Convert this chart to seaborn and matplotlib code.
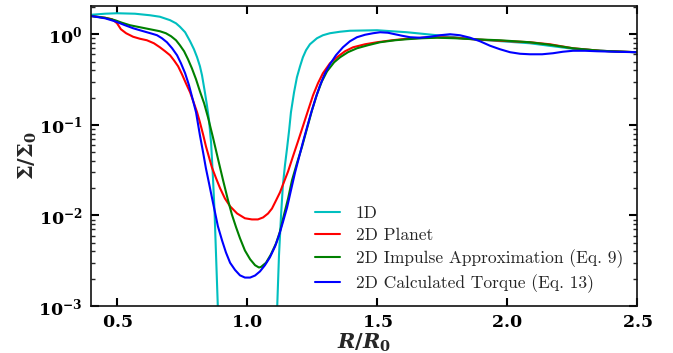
import numpy as np
import pandas as pd
import matplotlib
matplotlib.use("Agg")
import matplotlib.pyplot as plt
import matplotlib.ticker as mticker
import seaborn as sns

# ---------------- data ----------------
labels = ["1D", "2D Planet", "2D Impulse Approximation (Eq. 9)",
          "2D Calculated Torque (Eq. 13)"]
colors = ["#00bfbf", "#ff0000", "#008000", "#0000ff"]

x_1d = [0.40, 0.454, 0.50, 0.569, 0.627, 0.665, 0.704, 0.727, 0.742, 0.762,
        0.781, 0.796, 0.808, 0.819, 0.827, 0.838, 0.846, 0.854, 0.862, 0.869,
        0.875, 0.881, 0.887, 0.892, 1.00, 1.112, 1.117, 1.123, 1.131, 1.138,
        1.146, 1.154, 1.162, 1.169, 1.181, 1.192, 1.204, 1.215, 1.227, 1.242,
        1.269, 1.292, 1.319, 1.358, 1.396, 1.50, 1.615, 1.731, 1.869, 2.088,
        2.254, 2.396, 2.50]
y_1d = [1.64, 1.685, 1.705, 1.685, 1.62, 1.56, 1.43, 1.32, 1.21, 1.052,
        0.837, 0.683, 0.557, 0.443, 0.352, 0.229, 0.164, 0.112, 0.0625,
        0.0263, 0.0114, 0.0036, 0.00115, 0.00041, 1e-6, 0.00041, 0.00115,
        0.0036, 0.0101, 0.0215, 0.0358, 0.055, 0.087, 0.1375, 0.229, 0.335,
        0.443, 0.557, 0.666, 0.775, 0.903, 0.975, 1.026, 1.066, 1.093, 1.107,
        1.052, 0.975, 0.881, 0.795, 0.69, 0.649, 0.633]

x_planet = [0.40, 0.454, 0.481, 0.50, 0.515, 0.535, 0.562, 0.588, 0.615,
            0.642, 0.665, 0.685, 0.704, 0.719, 0.735, 0.75, 0.765, 0.781,
            0.796, 0.808, 0.819, 0.831, 0.842, 0.854, 0.865, 0.881, 0.896,
            0.915, 0.935, 0.962, 0.992, 1.019, 1.042, 1.062, 1.081, 1.096,
            1.112, 1.127, 1.142, 1.158, 1.177, 1.196, 1.215, 1.235, 1.254,
            1.273, 1.292, 1.319, 1.346, 1.377, 1.408, 1.454, 1.50, 1.558,
            1.615, 1.673, 1.731, 1.80, 1.869, 1.973, 2.088, 2.165, 2.254,
            2.358, 2.50]
y_planet = [1.59, 1.52, 1.465, 1.323, 1.135, 1.026, 0.938, 0.892, 0.858,
            0.795, 0.718, 0.649, 0.586, 0.516, 0.443, 0.361, 0.288, 0.229,
            0.173, 0.1375, 0.1065, 0.0785, 0.058, 0.0438, 0.0339, 0.0257,
            0.0201, 0.0154, 0.0126, 0.0105, 0.0093, 0.00903, 0.00903, 0.0095,
            0.0105, 0.0119, 0.0147, 0.018, 0.0233, 0.0306, 0.045, 0.0655,
            0.0962, 0.1446, 0.212, 0.288, 0.371, 0.478, 0.557, 0.649, 0.718,
            0.775, 0.816, 0.858, 0.892, 0.915, 0.927, 0.915, 0.881, 0.848,
            0.816, 0.775, 0.70, 0.657, 0.633]

x_impulse = [0.40, 0.454, 0.492, 0.519, 0.55, 0.588, 0.627, 0.665, 0.688,
             0.708, 0.727, 0.742, 0.758, 0.773, 0.788, 0.804, 0.819, 0.835,
             0.85, 0.869, 0.888, 0.908, 0.927, 0.942, 0.958, 0.973, 0.992,
             1.012, 1.031, 1.046, 1.054, 1.073, 1.092, 1.112, 1.127, 1.142,
             1.158, 1.173, 1.192, 1.212, 1.231, 1.25, 1.269, 1.288, 1.308,
             1.335, 1.358, 1.388, 1.423, 1.465, 1.512, 1.569, 1.615, 1.673,
             1.731, 1.80, 1.869, 1.973, 2.088, 2.165, 2.254, 2.358, 2.50]
y_impulse = [1.59, 1.52, 1.43, 1.34, 1.257, 1.195, 1.135, 1.079, 1.026,
             0.95, 0.858, 0.756, 0.649, 0.53, 0.421, 0.318, 0.234, 0.173,
             0.121, 0.0728, 0.0426, 0.0244, 0.0147, 0.0102, 0.0074, 0.0056,
             0.0041, 0.00328, 0.00282, 0.00266, 0.0027, 0.003, 0.00371,
             0.00493, 0.00668, 0.0101, 0.0154, 0.0244, 0.0376, 0.0578, 0.0915,
             0.1446, 0.217, 0.302, 0.39, 0.49, 0.557, 0.633, 0.70, 0.756,
             0.816, 0.858, 0.881, 0.903, 0.915, 0.903, 0.881, 0.858, 0.816,
             0.766, 0.70, 0.657, 0.633]

x_torque = [0.40, 0.454, 0.492, 0.531, 0.562, 0.588, 0.615, 0.635, 0.654,
            0.673, 0.692, 0.712, 0.731, 0.746, 0.762, 0.777, 0.792, 0.804,
            0.819, 0.831, 0.842, 0.854, 0.865, 0.877, 0.888, 0.904, 0.919,
            0.935, 0.954, 0.973, 0.992, 1.012, 1.031, 1.05, 1.069, 1.088,
            1.108, 1.123, 1.138, 1.154, 1.169, 1.185, 1.20, 1.215, 1.231,
            1.246, 1.265, 1.281, 1.30, 1.319, 1.342, 1.369, 1.396, 1.423,
            1.454, 1.485, 1.512, 1.542, 1.569, 1.596, 1.627, 1.665, 1.704,
            1.742, 1.781, 1.819, 1.858, 1.896, 1.935, 1.973, 2.012, 2.05,
            2.088, 2.135, 2.177, 2.215, 2.254, 2.30, 2.346, 2.415, 2.50]
y_torque = [1.59, 1.50, 1.39, 1.257, 1.165, 1.107, 1.052, 1.013, 0.975,
            0.903, 0.816, 0.70, 0.586, 0.478, 0.371, 0.273, 0.187, 0.1375,
            0.0765, 0.0499, 0.0331, 0.0226, 0.0158, 0.0108, 0.0076, 0.0053,
            0.0039, 0.0030, 0.0025, 0.00218, 0.00206, 0.00206, 0.00217,
            0.00241, 0.00282, 0.00344, 0.00455, 0.006, 0.0084, 0.0122,
            0.0189, 0.0299, 0.0438, 0.0641, 0.094, 0.134, 0.201, 0.273,
            0.371, 0.466, 0.586, 0.718, 0.837, 0.927, 0.987, 1.026, 1.052,
            1.039, 1.0, 0.963, 0.927, 0.915, 0.938, 0.975, 1.0, 0.975, 0.915,
            0.837, 0.746, 0.683, 0.633, 0.609, 0.601, 0.601, 0.617, 0.641,
            0.657, 0.657, 0.649, 0.641, 0.633]

x_ticks = [0.5, 1.0, 1.5, 2.0, 2.5]

# ---------------- build long-form table ----------------
frames = []
for lab, xs, ys in zip(labels,
                       [x_1d, x_planet, x_impulse, x_torque],
                       [y_1d, y_planet, y_impulse, y_torque]):
    frames.append(pd.DataFrame({"R": xs, "Sigma": ys, "series": lab}))
df = pd.concat(frames, ignore_index=True)

# ---------------- style ----------------
sns.set_theme(style="ticks")
plt.rcParams["font.family"] = ["DejaVu Serif"]
plt.rcParams["mathtext.fontset"] = "custom"
plt.rcParams["mathtext.rm"] = "DejaVu Serif"
plt.rcParams["mathtext.it"] = "DejaVu Serif:italic"
plt.rcParams["mathtext.bf"] = "DejaVu Serif:bold"
plt.rcParams["mathtext.bfit"] = "DejaVu Serif:italic:bold"
plt.rcParams["axes.linewidth"] = 1.2

fig = plt.figure(figsize=(6.73, 3.53), dpi=100)
ax = fig.add_axes([91 / 673, 1 - 306 / 353, (637 - 91) / 673, (306 - 6) / 353])

sns.lineplot(data=df, x="R", y="Sigma", hue="series", hue_order=labels,
             palette=colors, sort=False, estimator=None, units="series",
             linewidth=1.5, ax=ax)

ax.set_yscale("log")
ax.set_xlim(0.4, 2.5)
ax.set_ylim(1e-3, 2.05)

ax.set_xticks(x_ticks)
ax.xaxis.set_major_formatter(mticker.FuncFormatter(
    lambda v, p: r"$\mathbf{%.1f}$" % v))
ax.yaxis.set_major_locator(mticker.LogLocator(base=10, numticks=10))
ax.yaxis.set_minor_locator(mticker.LogLocator(base=10, subs=np.arange(2, 10),
                                              numticks=20))
ax.yaxis.set_minor_formatter(mticker.NullFormatter())
ax.yaxis.set_major_formatter(mticker.FuncFormatter(
    lambda v, p: r"$\mathbf{10^{%d}}$" % int(round(np.log10(v)))))

ax.tick_params(axis="both", which="major", direction="in", length=6,
               width=1.5, labelsize=12.5, top=True, right=True, pad=6,
               colors="black")
ax.tick_params(axis="y", which="minor", direction="in", length=3, width=1,
               left=True, right=True)
ax.tick_params(axis="x", which="minor", bottom=False, top=False)

ax.set_xlabel(r"$\boldsymbol{R/R}_\mathbf{0}$", fontsize=15)
ax.xaxis.set_label_coords(0.5, -0.085)
ax.set_ylabel(r"$\mathbf{\Sigma/\Sigma_0}$", fontsize=15)
ax.yaxis.set_label_coords(-0.095, 0.5)
for s in ax.spines.values():
    s.set_color("#111111")
    s.set_linewidth(1.2)

leg = ax.legend(loc="lower left", bbox_to_anchor=(0.388, 0.004), frameon=False,
                prop={"family": "cmr10", "size": 12.5}, handlelength=1.45,
                handletextpad=0.9, labelspacing=0.36, borderaxespad=0.3)

fig.savefig("out.png", dpi=100)
